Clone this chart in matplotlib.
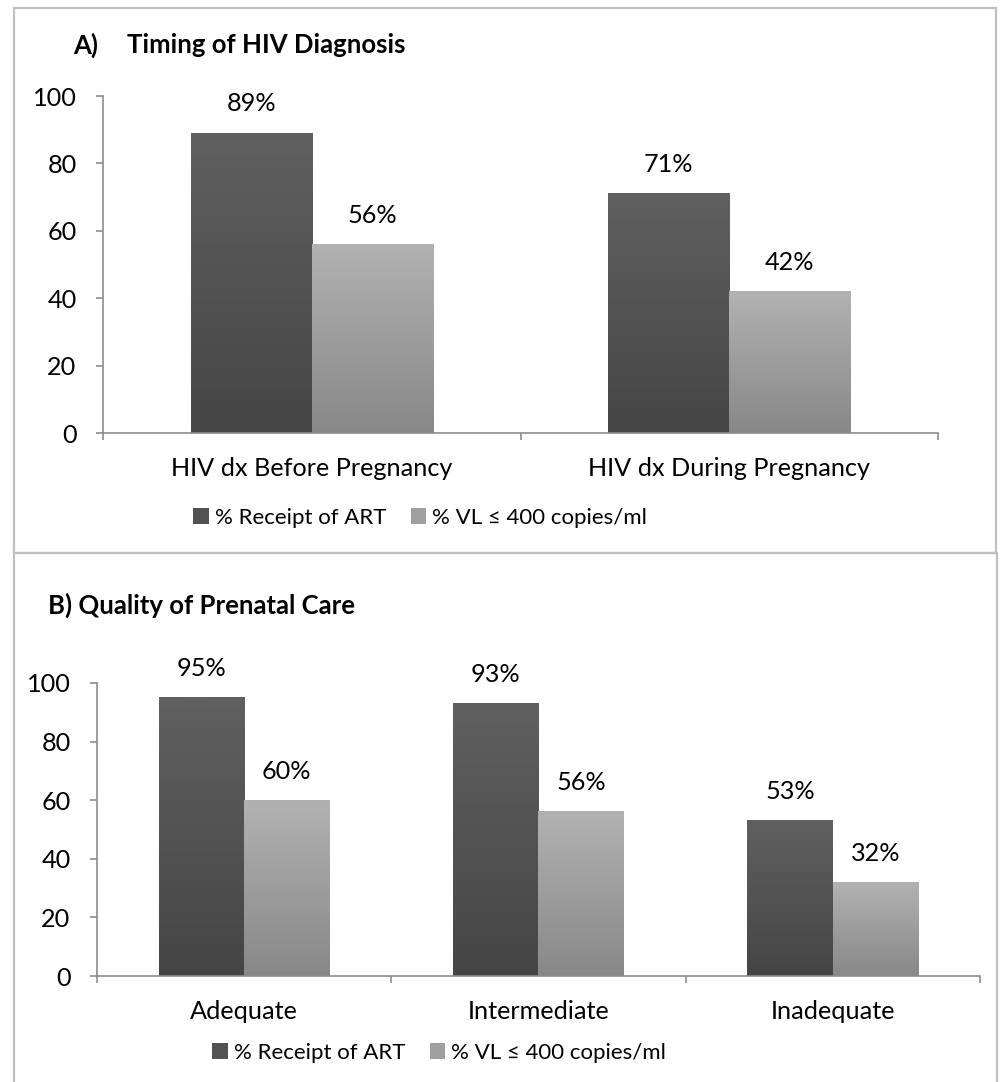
import numpy as np
import matplotlib
matplotlib.use("Agg")
import matplotlib.pyplot as plt
from matplotlib.colors import LinearSegmentedColormap
from matplotlib.patches import Patch, Rectangle

plt.rcParams['font.family'] = ['Lato', 'DejaVu Sans']

# ---- data ----
cats_a = ["HIV dx Before Pregnancy", "HIV dx During Pregnancy"]
art_a = [89, 71]
vl_a = [56, 42]

cats_b = ["Adequate", "Intermediate", "Inadequate"]
art_b = [95, 93, 53]
vl_b = [60, 56, 32]

series_names = ["% Receipt of ART", "% VL \u2264 400 copies/ml"]
yticks = [0, 20, 40, 60, 80, 100]

W, H = 1004, 1082
fig = plt.figure(figsize=(W / 100, H / 100), dpi=100)
fig.patch.set_facecolor("white")

dark_cmap = LinearSegmentedColormap.from_list("d", ["#454545", "#606060"])
light_cmap = LinearSegmentedColormap.from_list("l", ["#888888", "#b2b2b2"])
grad = np.linspace(0, 1, 256).reshape(-1, 1)

FS = 18.2
LFS = 16
AXC = "#8c8c8c"


def panel(rect_px, cats, s1, s2):
    l, r, top, bot = rect_px
    ax = fig.add_axes([l / W, 1 - bot / H, (r - l) / W, (bot - top) / H])
    x = np.arange(len(cats))
    w = 0.29
    b1 = ax.bar(x - w / 2, s1, w, color="none", edgecolor="none")
    b2 = ax.bar(x + w / 2, s2, w, color="none", edgecolor="none")
    for bars, cmap in ((b1, dark_cmap), (b2, light_cmap)):
        for p in bars:
            x0, wd, h = p.get_x(), p.get_width(), p.get_height()
            ax.imshow(grad, extent=(x0, x0 + wd, 0, h), origin="lower",
                      cmap=cmap, aspect="auto", zorder=2)
    for xi, v in zip(x - w / 2, s1):
        ax.annotate(f"{v}%", (xi, v), xytext=(0, 21), textcoords="offset points",
                    ha="center", va="center", fontsize=FS)
    for xi, v in zip(x + w / 2, s2):
        ax.annotate(f"{v}%", (xi, v), xytext=(0, 21), textcoords="offset points",
                    ha="center", va="center", fontsize=FS)
    ax.set_xlim(-0.5, len(cats) - 0.5)
    ax.set_ylim(0, 100)
    ax.set_yticks(yticks)
    ax.set_xticks(x)
    ax.set_xticklabels(cats, fontsize=FS)
    ax.set_xticks(np.arange(len(cats) + 1) - 0.5, minor=True)
    ax.tick_params(axis="x", which="major", length=0, pad=17)
    ax.tick_params(axis="x", which="minor", length=5, width=1.2, color=AXC, direction="out")
    ax.tick_params(axis="y", length=5, width=1.2, color=AXC, pad=14, labelsize=FS)
    for s in ("top", "right"):
        ax.spines[s].set_visible(False)
    for s in ("left", "bottom"):
        ax.spines[s].set_color(AXC)
        ax.spines[s].set_linewidth(1.2)
    ax.set_facecolor("none")
    return ax


axA = panel((103, 938, 96, 433), cats_a, art_a, vl_a)
axB = panel((97, 980, 683, 976), cats_b, art_b, vl_b)

# titles
fig.text(73 / W, 1 - 45 / H, "A)", fontsize=18.5, fontweight="bold", va="center", ha="left")
fig.text(127 / W, 1 - 45 / H, "Timing of HIV Diagnosis", fontsize=18.5, fontweight="bold",
         va="center", ha="left")
fig.text(48 / W, 1 - 605 / H, "B) Quality of Prenatal Care", fontsize=18.5, fontweight="bold",
         va="center", ha="left")

# legends
handles = [Patch(facecolor="#525252", edgecolor="none"),
           Patch(facecolor="#a0a0a0", edgecolor="none")]
for cx, cy in ((420, 518), (439, 1053)):
    fig.legend(handles, series_names, loc="center", bbox_to_anchor=(cx / W, 1 - cy / H),
               ncol=2, frameon=False, fontsize=LFS, handlelength=0.7, handleheight=0.7,
               handletextpad=0.25, columnspacing=1.1)

# panel borders
BC = "#c0c0c0"
fig.patches.append(Rectangle((14 / W, 1 - 553 / H), 982 / W, 545 / H, transform=fig.transFigure,
                             fill=False, edgecolor=BC, linewidth=1.6))
fig.patches.append(Rectangle((14 / W, -20 / H), 983 / W, (1082 - 553 + 20) / H,
                             transform=fig.transFigure, fill=False, edgecolor=BC, linewidth=1.6))

fig.savefig("out.png", dpi=100)
